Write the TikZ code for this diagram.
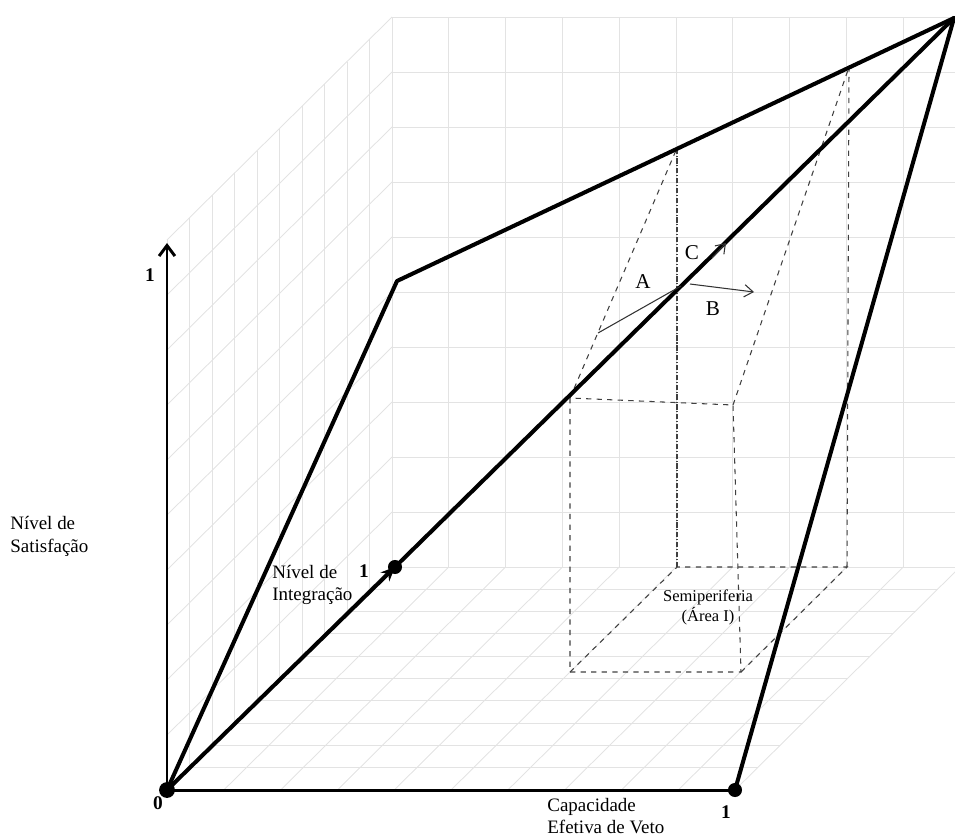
\documentclass[tikz,border=0pt]{standalone}
\usepackage{fontspec}
\setmainfont{Liberation Serif}
\usetikzlibrary{arrows.meta, positioning}

\begin{document}
\begin{tikzpicture}[
    x=0.02cm, y=-0.02cm,
    gridline/.style={draw=black!11, line width=0.5pt},
    thickline/.style={line width=2.3pt, line cap=round, line join=round},
    axisline/.style={line width=1.7pt},
    box/.style={dashed, draw=black!75, line width=0.6pt},
    pointer/.style={-{Straight Barb[length=5pt, width=7pt]}, line width=0.6pt, draw=black!80},
    bullet/.style={circle, fill=black, inner sep=0pt, minimum size=#1},
    txt/.style={font=\fontsize{10.8}{13}\selectfont, align=left, inner sep=0pt},
    numlab/.style={font=\fontsize{11}{13}\selectfont\bfseries, inner sep=0pt},
    letter/.style={font=\fontsize{12}{14}\selectfont, inner sep=0pt}
]
\useasboundingbox (0,0) rectangle (955,839);

\begin{scope}
\clip (0,0) rectangle (955,839);
\foreach \k in {0,...,10} {
  \draw[gridline] ({392+56.8*\k},17) -- ({392+56.8*\k},567);
  \draw[gridline] (392,{17+55*\k}) -- (960,{17+55*\k});
  \draw[gridline] ({167+56.8*\k},790) -- ({392+56.8*\k},567);
  \draw[gridline] ({167+22.5*\k},{790-22.3*\k}) -- ({735+22.5*\k},{790-22.3*\k});
  \draw[gridline] (167,{240+55*\k}) -- (392,{17+55*\k});
  \draw[gridline] ({167+22.5*\k},{240-22.3*\k}) -- ({167+22.5*\k},{790-22.3*\k});
}
\end{scope}

% caixa semiperiferia
\coordinate (fl) at (570,672);
\coordinate (fr) at (741,672);
\coordinate (bl) at (677,567);
\coordinate (br) at (847,567);
\coordinate (flt) at (570,398);
\coordinate (frt) at (733,405);
\coordinate (blt) at (677,148);
\coordinate (brt) at (849,67);
\draw[box] (flt) -- (fl) -- (fr) -- (frt) -- cycle;
\draw[box] (fl) -- (bl) -- (br) -- (fr);
\draw[box] (br) -- (brt);
\draw[box, densely dash dot] (bl) -- (blt);
\draw[box] (flt) -- (blt);
\draw[box] (frt) -- (brt);

\node[bullet=9pt] (orig) at (167,790) {};
\node[bullet=8pt] (veto1) at (735,790) {};
\node[bullet=8pt] (integ1) at (395,567) {};
\coordinate (satis1) at (167,243);
\coordinate (bend) at (397,281);
\coordinate (top) at (954,18);

\draw[axisline] (orig.center) -- (veto1.center);
\draw[axisline, -{Straight Barb[length=6pt, width=9pt]}] (orig.center) -- (satis1);
\draw[thickline] (orig.center) -- (bend) -- (top);
\draw[thickline, -{Stealth[length=8pt, width=7pt]}] (orig.center) -- (integ1.center);
\draw[thickline] (integ1.center) -- (top);
\draw[thickline] (veto1.center) -- (top);

% setas A, B, C
\coordinate (astart) at (598,333);
\coordinate (apt) at (681,286);
\coordinate (bstart) at (690,284);
\coordinate (btip) at (754,292);
\coordinate (cstart) at (712,258);
\coordinate (ctip) at (726,243);
\draw[line width=0.6pt, draw=black!80] (astart) -- (apt);
\draw[pointer] (bstart) -- (btip);
\draw[pointer] (cstart) -- (ctip);

\node[letter] (labA) at (643,282) {A};
\node[letter] (labB) at (713,309) {B};
\node[letter] (labC) at (692,253) {C};

\node[txt, align=center, font=\fontsize{9.4}{11.4}\selectfont] (semi) at (708,607) {Semiperiferia\\(Área I)};
\node[txt, anchor=west] (satis) at (10,536) {Nível de\\Satisfação};
\node[txt, anchor=west] (integ) at (272,585) {Nível de\\Integração};
\node[txt, anchor=west, font=\fontsize{10.8}{12.4}\selectfont] (veto) at (547,816) {Capacidade\\Efetiva de Veto};

\node[numlab] (zero) at (158,803) {0};
\node[numlab] (one y) at (150,275) {1};
\node[numlab] (one z) at (364,571) {1};
\node[numlab] (one x) at (726,812) {1};
\end{tikzpicture}
\end{document}
